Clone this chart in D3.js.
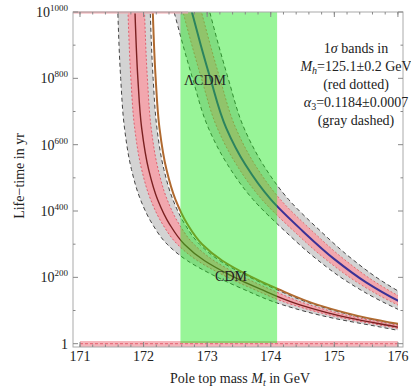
<!DOCTYPE html>
<html lang="en">
  <head>
    <meta charset="UTF-8" />
    <script src="https://d3js.org/d3.v7.min.js"></script>
    <title>Vacuum life-time</title>
    <style>
      body { margin: 0; background: #fff; }
      svg text { font-family: "Liberation Serif", "DejaVu Serif", serif; fill: #222; }
    </style>
  </head>
  <body>
    <svg width="411" height="390"></svg>
    <script>
      // log10 of life-time (yr) levels, and top mass Mt (GeV)
      const cdmLevels = [1100, 1000, 800, 650, 525, 435, 360, 300, 250, 207, 165, 117, 77, 50, 30];
      const cdmMid    = [171.85, 171.865, 171.91, 171.97, 172.08, 172.22, 172.41, 172.64, 172.96, 173.36, 173.83, 174.46, 175.25, 176.00, 176.55];
      const cdmGrayLo = [171.58, 171.595, 171.64, 171.70, 171.81, 171.95, 172.14, 172.37, 172.69, 173.09, 173.56, 174.19, 174.98, 175.73, 176.28];
      const cdmGrayHi = [172.09, 172.105, 172.15, 172.21, 172.32, 172.46, 172.65, 172.88, 173.20, 173.60, 174.07, 174.70, 175.49, 176.24, 176.79];
      const cdmPinkLo = [171.74, 171.755, 171.80, 171.86, 171.97, 172.11, 172.30, 172.53, 172.85, 173.25, 173.72, 174.35, 175.14, 175.89, 176.44];
      const cdmPinkHi = [172.00, 172.015, 172.06, 172.12, 172.23, 172.37, 172.56, 172.79, 173.11, 173.51, 173.98, 174.61, 175.40, 176.15, 176.70];
      const cdmBrown  = [172.13, 172.145, 172.19, 172.25, 172.36, 172.50, 172.69, 172.92, 173.24, 173.64, 174.11, 174.74, 175.53, 176.28, 176.83];

      const lcdmLevels = [1100, 1000, 900, 800, 650, 540, 435, 340, 255, 185, 130, 90, 60];
      const lcdmMid    = [172.62, 172.76, 172.90, 173.05, 173.30, 173.60, 174.00, 174.50, 175.00, 175.50, 176.00, 176.45, 176.90];
      const lcdmGrayLo = [172.34, 172.48, 172.62, 172.77, 173.02, 173.32, 173.72, 174.22, 174.72, 175.22, 175.72, 176.17, 176.62];
      const lcdmGrayHi = [172.90, 173.04, 173.18, 173.33, 173.58, 173.88, 174.28, 174.78, 175.28, 175.78, 176.28, 176.73, 177.18];
      const lcdmPinkLo = [172.48, 172.62, 172.76, 172.91, 173.16, 173.46, 173.86, 174.36, 174.86, 175.36, 175.86, 176.31, 176.76];
      const lcdmPinkHi = [172.77, 172.91, 173.05, 173.20, 173.45, 173.75, 174.15, 174.65, 175.15, 175.65, 176.15, 176.60, 177.05];

      // measured top mass band
      const mtBand = [172.58, 174.10];

      const xTicks = [171, 172, 173, 174, 175, 176];
      const xMinor = d3.range(171, 176.01, 0.2);
      const yTicks = [0, 200, 400, 600, 800, 1000];
      const yMinor = [100, 300, 500, 700, 900];
      const yTickLabels = ["1", "200", "400", "600", "800", "1000"];

      const svg = d3.select("svg");
      const fLeft = 73, fRight = 403, fTop = 12, fBottom = 347;

      const x = d3.scaleLinear().domain([170.89, 176.08]).range([fLeft, fRight]);
      const y = d3.scaleLinear().domain([-10, 1000]).range([fBottom, fTop]);

      svg.append("clipPath").attr("id", "clip")
        .append("rect")
        .attr("x", x(171)).attr("y", y(1000))
        .attr("width", x(176) - x(171)).attr("height", y(-10) - y(1000));

      const plot = svg.append("g").attr("clip-path", "url(#clip)");

      function band(levels, lo, hi, fill) {
        const pts = levels.map((l, i) => ({ l, lo: lo[i], hi: hi[i] }));
        plot.append("path")
          .datum(pts)
          .attr("fill", fill)
          .attr("d", d3.area()
            .y((d) => y(d.l))
            .x0((d) => x(d.lo))
            .x1((d) => x(d.hi))
            .curve(d3.curveMonotoneY));
      }
      function line(levels, mts, color, width, dash) {
        const pts = levels.map((l, i) => ({ l, m: mts[i] }));
        plot.append("path")
          .datum(pts)
          .attr("fill", "none")
          .attr("stroke", color)
          .attr("stroke-width", width)
          .attr("stroke-dasharray", dash || null)
          .attr("d", d3.line()
            .y((d) => y(d.l))
            .x((d) => x(d.m))
            .curve(d3.curveMonotoneY));
      }

      // gray bands (alpha_3) and pink bands (M_h)
      band(cdmLevels, cdmGrayLo, cdmGrayHi, "#d3d3d3");
      band(lcdmLevels, lcdmGrayLo, lcdmGrayHi, "#d3d3d3");
      band(cdmLevels, cdmPinkLo, cdmPinkHi, "#f2a7ae");
      band(lcdmLevels, lcdmPinkLo, lcdmPinkHi, "#f2a7ae");

      // bottom pink strip at life-time 1 yr
      plot.append("rect")
        .attr("x", x(171)).attr("width", x(176) - x(171))
        .attr("y", y(8)).attr("height", y(-10) - y(8))
        .attr("fill", "#f5b5bb");

      // band borders
      [cdmGrayLo, cdmGrayHi].forEach((a) => line(cdmLevels, a, "#444", 1, "4,3"));
      [lcdmGrayLo, lcdmGrayHi].forEach((a) => line(lcdmLevels, a, "#444", 1, "4,3"));
      [cdmPinkLo, cdmPinkHi].forEach((a) => line(cdmLevels, a, "#e0606e", 1, "2,2"));
      [lcdmPinkLo, lcdmPinkHi].forEach((a) => line(lcdmLevels, a, "#e0706e", 1, "2,2"));

      // central curves
      line(cdmLevels, cdmBrown, "#b06a30", 2);
      line(cdmLevels, cdmMid, "#7a2020", 1.4);
      line(lcdmLevels, lcdmMid, "#3a3296", 2);

      // green band of the measured top mass, drawn over the curves
      svg.append("rect")
        .attr("x", x(mtBand[0])).attr("width", x(mtBand[1]) - x(mtBand[0]))
        .attr("y", fTop).attr("height", y(2) - fTop)
        .attr("fill", "rgb(26,233,26)")
        .attr("opacity", 0.45);

      // pink edges along top and bottom
      svg.append("line")
        .attr("x1", x(171)).attr("x2", x(176))
        .attr("y1", y(0)).attr("y2", y(0))
        .attr("stroke", "#e8707e").attr("stroke-width", 1.2)
        .attr("stroke-dasharray", "3,2");
      svg.append("line")
        .attr("x1", fLeft).attr("x2", x(172.7))
        .attr("y1", fTop + 0.5).attr("y2", fTop + 0.5)
        .attr("stroke", "#f2a7ae").attr("stroke-width", 2);

      // frame
      svg.append("rect")
        .attr("x", fLeft).attr("y", fTop)
        .attr("width", fRight - fLeft).attr("height", fBottom - fTop)
        .attr("fill", "none").attr("stroke", "#aaa").attr("stroke-width", 1);

      const ticks = svg.append("g").attr("stroke", "#888").attr("stroke-width", 1);
      xTicks.forEach((t) => {
        ticks.append("line").attr("x1", x(t)).attr("x2", x(t)).attr("y1", fBottom).attr("y2", fBottom - 5);
        ticks.append("line").attr("x1", x(t)).attr("x2", x(t)).attr("y1", fTop).attr("y2", fTop + 5);
      });
      xMinor.forEach((t) => {
        ticks.append("line").attr("x1", x(t)).attr("x2", x(t)).attr("y1", fBottom).attr("y2", fBottom - 2.5);
        ticks.append("line").attr("x1", x(t)).attr("x2", x(t)).attr("y1", fTop).attr("y2", fTop + 2.5);
      });
      yTicks.forEach((t) => {
        ticks.append("line").attr("x1", fLeft).attr("x2", fLeft + 5).attr("y1", y(t)).attr("y2", y(t));
        ticks.append("line").attr("x1", fRight).attr("x2", fRight - 5).attr("y1", y(t)).attr("y2", y(t));
      });
      yMinor.forEach((t) => {
        ticks.append("line").attr("x1", fLeft).attr("x2", fLeft + 2.5).attr("y1", y(t)).attr("y2", y(t));
        ticks.append("line").attr("x1", fRight).attr("x2", fRight - 2.5).attr("y1", y(t)).attr("y2", y(t));
      });

      // tick labels
      svg.selectAll(".xl").data(xTicks).enter().append("text")
        .attr("x", (d) => x(d)).attr("y", 361)
        .attr("text-anchor", "middle").attr("font-size", 14)
        .text((d) => d);

      yTicks.forEach((t, i) => {
        const tx = svg.append("text")
          .attr("x", 68).attr("y", y(t) + 5)
          .attr("text-anchor", "end").attr("font-size", 14);
        if (t === 0) {
          tx.text(yTickLabels[i]);
        } else {
          tx.append("tspan").text("10");
          tx.append("tspan").attr("dy", -6).attr("font-size", 9).text(yTickLabels[i]);
        }
      });

      // axis titles
      const xt = svg.append("text")
        .attr("x", 240).attr("y", 383)
        .attr("text-anchor", "middle").attr("font-size", 14);
      xt.append("tspan").text("Pole top mass ");
      xt.append("tspan").attr("font-style", "italic").text("M");
      xt.append("tspan").attr("font-style", "italic").attr("font-size", 10).attr("dy", 3).text("t");
      xt.append("tspan").attr("dy", -3).text(" in GeV");

      svg.append("text")
        .attr("transform", "translate(24,176) rotate(-90)")
        .attr("text-anchor", "middle").attr("font-size", 14)
        .text("Life\u2212time in yr");

      // curve labels
      svg.append("text").attr("x", 205).attr("y", 85)
        .attr("text-anchor", "middle").attr("font-size", 14).text("\u039BCDM");
      svg.append("text").attr("x", 231).attr("y", 281)
        .attr("text-anchor", "middle").attr("font-size", 14).text("CDM");

      // legend text
      const cx = 356;
      const l1 = svg.append("text").attr("x", cx).attr("y", 53).attr("text-anchor", "middle").attr("font-size", 14);
      l1.append("tspan").text("1");
      l1.append("tspan").attr("font-style", "italic").text("\u03C3");
      l1.append("tspan").text(" bands in");

      const l2 = svg.append("text").attr("x", cx).attr("y", 71).attr("text-anchor", "middle").attr("font-size", 14);
      l2.append("tspan").attr("font-style", "italic").text("M");
      l2.append("tspan").attr("font-style", "italic").attr("font-size", 10).attr("dy", 3).text("h");
      l2.append("tspan").attr("dy", -3).text("=125.1\u00B10.2 GeV");

      svg.append("text").attr("x", cx).attr("y", 89).attr("text-anchor", "middle").attr("font-size", 14).text("(red dotted)");

      const l4 = svg.append("text").attr("x", cx).attr("y", 107).attr("text-anchor", "middle").attr("font-size", 14);
      l4.append("tspan").attr("font-style", "italic").text("\u03B1");
      l4.append("tspan").attr("font-size", 10).attr("dy", 3).text("3");
      l4.append("tspan").attr("dy", -3).text("=0.1184\u00B10.0007");

      svg.append("text").attr("x", cx).attr("y", 125).attr("text-anchor", "middle").attr("font-size", 14).text("(gray dashed)");
    </script>
  </body>
</html>
